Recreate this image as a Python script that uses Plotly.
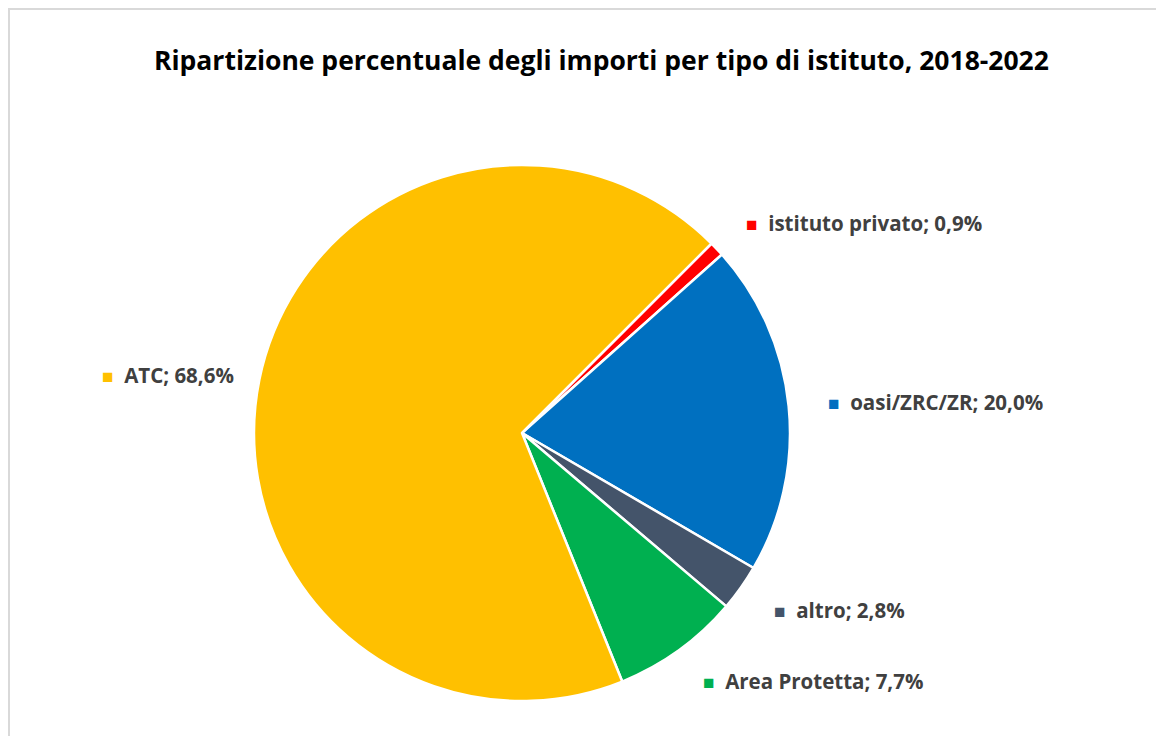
import math
import plotly.graph_objects as go

# ---- data ----
categories = ["istituto privato", "oasi/ZRC/ZR", "altro", "Area Protetta", "ATC"]
values = [0.9, 20.0, 2.8, 7.7, 68.6]
colors = ["#FF0000", "#0070C0", "#44546A", "#00B050", "#FFC000"]
title_text = "Ripartizione percentuale degli importi per tipo di istituto, 2018-2022"

W, H = 1164, 736
OFF = 8  # page body margin
# pie geometry (pixels, in figure coordinates)
CX, CY, R = 522 - OFF, 433 - OFF, 268
ROT = 45
LABEL_R_LEFT_ANCHOR = 306
LABEL_R_RIGHT_ANCHOR = 292

fig = go.Figure()
fig.add_trace(go.Pie(
    labels=categories,
    values=values,
    sort=False,
    direction="clockwise",
    rotation=ROT,
    marker=dict(colors=colors, line=dict(color="#FFFFFF", width=2.5)),
    textinfo="none",
    hoverinfo="label+percent",
    showlegend=False,
    domain=dict(x=[(CX - R) / W, (CX + R) / W], y=[1 - (CY + R) / H, 1 - (CY - R) / H]),
))

# data labels positioned from the slices' mid-angles
total = sum(values)
cum = 0.0
annotations = []
for cat, v, col in zip(categories, values, colors):
    mid = math.radians(ROT + 360.0 * (cum + v / 2.0) / total)
    cum += v
    right_side = math.sin(mid) >= 0
    lr = LABEL_R_LEFT_ANCHOR if right_side else LABEL_R_RIGHT_ANCHOR
    px = CX + lr * math.sin(mid)
    py = CY - lr * math.cos(mid)
    pct = f"{v:.1f}".replace(".", ",")
    txt = (f'<span style="color:{col};font-size:19px">■</span>'
           f'\u00a0\u00a0{cat}; {pct}%')
    annotations.append(dict(
        x=px / W, y=1 - py / H, xref="paper", yref="paper",
        text=txt, showarrow=False,
        xanchor="left" if right_side else "right",
        yanchor="middle",
        font=dict(family="Open Sans", size=20.5, color="#404040", weight="bold"),
    ))

annotations.append(dict(
    x=(601 - OFF) / W, y=1 - (60 - OFF) / H, xref="paper", yref="paper",
    text=f"<b>{title_text}</b>", showarrow=False,
    xanchor="center", yanchor="middle",
    font=dict(family="Open Sans", size=26.5, color="#000000"),
))

fig.update_layout(
    width=W, height=H,
    margin=dict(l=0, r=0, t=0, b=0),
    paper_bgcolor="#FFFFFF",
    plot_bgcolor="#FFFFFF",
    annotations=annotations,
    shapes=[dict(type="rect", xref="paper", yref="paper",
                 x0=1 / W, x1=(1161 - OFF) / W, y0=-0.05, y1=1 - 1 / H,
                 line=dict(color="#D9D9D9", width=2), fillcolor="rgba(0,0,0,0)",
                 layer="below")],
)

fig.write_html("out.html")
